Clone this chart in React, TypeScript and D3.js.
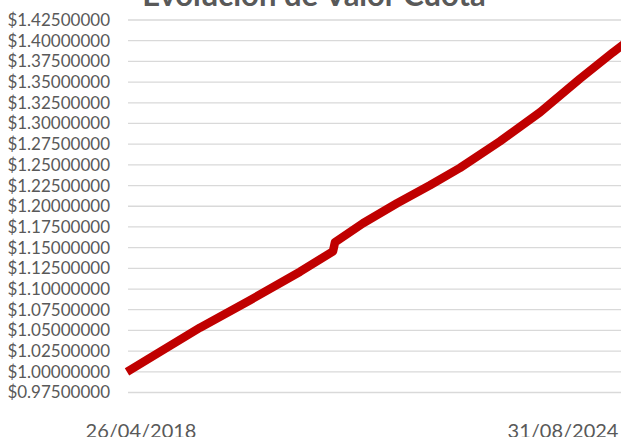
import React from "react";
import * as d3 from "d3";

const title = "Evolución de Valor Cuota";
const dates = [
  "2018-04-26", "2018-10-24", "2019-06-01", "2020-03-02", "2020-12-02",
  "2021-06-01", "2021-06-12", "2021-11-13", "2022-05-19", "2022-11-16",
  "2023-04-30", "2023-12-06", "2024-07-13", "2025-02-17", "2025-08-18",
  "2025-10-23",
];
const values = [
  1.0, 1.024, 1.0533, 1.0865, 1.1209,
  1.1456, 1.1565, 1.1795, 1.2036, 1.2254,
  1.2464, 1.2785, 1.3135, 1.354, 1.386,
  1.397,
];
const yTicks = [0.975, 1.0, 1.025, 1.05, 1.075, 1.1, 1.125, 1.15, 1.175, 1.2, 1.225, 1.25, 1.275, 1.3, 1.325, 1.35, 1.375, 1.4, 1.425];
const xTickLabels = ["26/04/2018", "31/08/2024"];

const W = 621;
const H = 437;

export default function App() {
  const parse = d3.timeParse("%Y-%m-%d");
  const parseLabel = d3.timeParse("%d/%m/%Y");
  const data = dates.map((d, i) => ({ date: parse(d) as Date, value: values[i] }));
  const x = d3
    .scaleTime()
    .domain([parse("2018-04-26") as Date, parse("2024-08-31") as Date])
    .range([127, 549]);
  const y = d3.scaleLinear().domain([0.975, 1.425]).range([392.5, 20]);
  const line = d3
    .line<{ date: Date; value: number }>()
    .x((d) => x(d.date))
    .y((d) => y(d.value));
  const fmt = d3.format(".8f");
  const font = "Lato, 'Open Sans', sans-serif";
  return (
    <svg
      width={W}
      height={H}
      style={{ position: "fixed", left: 0, top: 0, background: "#fff" }}
    >
      <rect x={0} y={0} width={W} height={H} fill="#fff" />
      <text
        x={314}
        y={6}
        textAnchor="middle"
        fontFamily={font}
        fontWeight="bold"
        fontSize={31}
        fill="#595959"
      >
        {title}
      </text>
      {yTicks.map((t) => (
        <g key={t}>
          <line x1={128} x2={W} y1={y(t)} y2={y(t)} stroke="#d9d9d9" strokeWidth={1.3} />
          <text
            x={110}
            y={y(t)}
            dy="0.35em"
            textAnchor="end"
            fontFamily={font}
            fontSize={17}
            fill="#595959"
          >
            {"$" + fmt(t)}
          </text>
        </g>
      ))}
      <path
        d={line(data) || ""}
        fill="none"
        stroke="#C00000"
        strokeWidth={8.5}
        strokeLinejoin="round"
      />
      {xTickLabels.map((l) => (
        <text
          key={l}
          x={x(parseLabel(l) as Date) + 14}
          y={438}
          textAnchor="middle"
          fontFamily={font}
          fontSize={20}
          fill="#595959"
        >
          {l}
        </text>
      ))}
    </svg>
  );
}
